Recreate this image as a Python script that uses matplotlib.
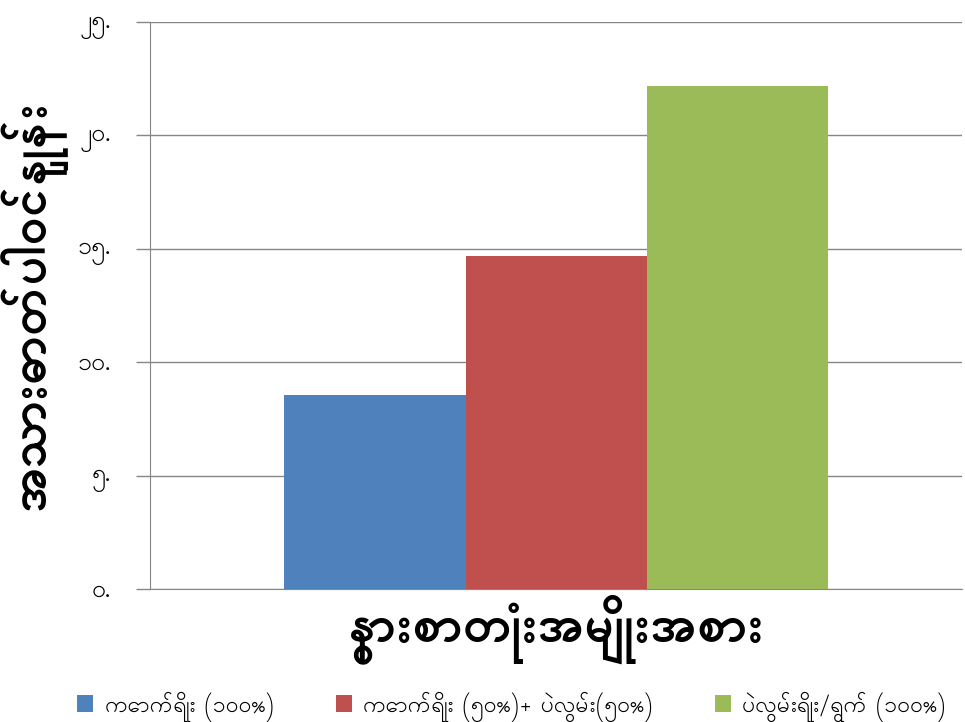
import matplotlib
matplotlib.use("Agg")
import matplotlib.pyplot as plt

plt.rcParams['font.family'] = ['Padauk', 'Noto Sans Myanmar UI', 'DejaVu Sans']

# အသားဓာတ်ပါဝင်နှုန်း - နွားစာတုံး အမျိုးအစား
series = ['ကောက်ရိုး (၁၀၀%)', 'ကောက်ရိုး (၅၀%)+ ပဲလွမ်း(၅၀%)', 'ပဲလွမ်းရိုး/ရွက် (၁၀၀%)']
values = [8.55, 14.7, 22.2]
colors = ['#4F81BD', '#C0504D', '#9BBB59']
yticks = [0, 5, 10, 15, 20, 25]
ytick_labels = ['၀.', '၅.', '၁၀.', '၁၅.', '၂၀.', '၂၅.']

fig = plt.figure(figsize=(9.65, 7.22), dpi=100)
ax = fig.add_axes([0.1554, 0.1842, 0.8416, 0.7853])

for i in range(len(series)):
    ax.bar(i - 1, values[i], width=1.0, color=colors[i], label=series[i], zorder=3)

ax.set_xlim(-2.243, 2.243)
ax.set_ylim(0, 25)
ax.set_yticks(yticks)
ax.set_yticklabels(ytick_labels, fontsize=18)
ax.set_xticks([])
ax.grid(axis='y', color='#868686', linewidth=1, zorder=0)
ax.tick_params(axis='y', length=10, width=1, color='#868686', pad=18)

for s in ['top', 'right']:
    ax.spines[s].set_visible(False)
ax.spines['left'].set_color('#868686')
ax.spines['bottom'].set_color('#868686')

ax.set_ylabel('အသားဓာတ်ပါဝင်နှုန်း', fontsize=36, fontweight='bold', labelpad=8)
ax.set_xlabel('နွားစာတုံးအမျိုးအစား', fontsize=37, fontweight='bold', labelpad=4)

fig.legend(loc='lower center', bbox_to_anchor=(0.53, -0.028), ncol=3, frameon=False,
           fontsize=16.5, handlelength=0.7, handleheight=0.7, columnspacing=2.7, handletextpad=0.5)

fig.savefig('out.png', dpi=100)
